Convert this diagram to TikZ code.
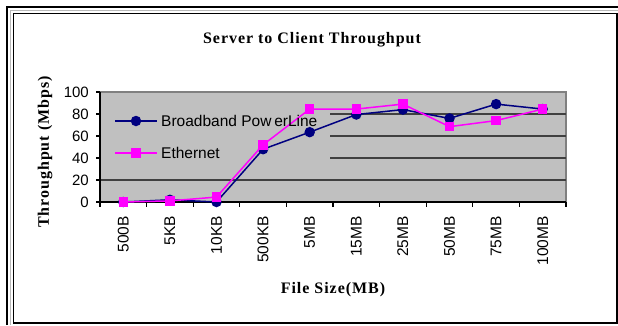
\documentclass[tikz,border=0pt]{standalone}
\usepackage{fontspec}
\newfontfamily\chartsans{Liberation Sans}
\newfontfamily\chartserif[LetterSpace=6]{Liberation Serif}
\definecolor{plotgray}{RGB}{192,192,192}
\definecolor{bordergray}{RGB}{128,128,128}
\definecolor{navyline}{RGB}{0,0,128}
\definecolor{magline}{RGB}{255,0,255}
\begin{document}
\begin{tikzpicture}[x=1pt,y=-1pt,
  ticklabel/.style={font=\chartsans\fontsize{15}{15}\selectfont, inner sep=0pt},
  catlabel/.style={font=\chartsans\fontsize{15.5}{15.5}\selectfont, inner sep=0pt, rotate=90, anchor=east},
  axistitle/.style={font=\chartserif\bfseries\fontsize{16}{16}\selectfont, inner sep=0pt},
  legendtext/.style={font=\chartsans\fontsize{15.5}{15.5}\selectfont, inner sep=0pt, anchor=west},
  gridline/.style={black!75, line width=1.2pt},
  pline/.style={navyline, line width=1.5pt},
  eline/.style={magline, line width=1.5pt},
  pmark/.style={circle, fill=navyline, minimum size=10.5pt, inner sep=0pt},
  emark/.style={rectangle, fill=magline, minimum size=9.5pt, inner sep=0pt},
]
\useasboundingbox (0,0) rectangle (618,325);

% double frame round the chart
\draw[line width=2.2pt] (7,325) -- (7,7) -- (618,7);
\draw[gray!55, line width=0.9pt] (10.2,325) -- (10.2,10.2) -- (618,10.2);
\draw[line width=1.6pt] (13.3,13.3) rectangle (617,323);

% title
\node[axistitle] (title) at (312,40) {Server to Client Throughput};

% plot area
\fill[plotgray] (100,92) rectangle (566,202);
\draw[bordergray, line width=1.2pt] (100,92) -- (566,92) -- (566,202);
\foreach \v in {20,40,60,80} {
  \draw[gridline] (100,{202-1.1*\v}) -- (566,{202-1.1*\v});
}
% legend background hides the grid behind it
\fill[plotgray] (101,99) rectangle (330,170);

% axes and ticks
\draw[line width=1.2pt] (100,92) -- (100,202) -- (566,202);
\foreach \v in {0,20,...,100} {
  \draw[line width=1.1pt] (96,{202-1.1*\v}) -- (100,{202-1.1*\v});
  \node[ticklabel, anchor=east] (y\v) at (89,{202-1.1*\v}) {\v};
}
\foreach \i in {0,...,10} {
  \draw[line width=1.1pt] ({100+46.6*\i},202) -- ({100+46.6*\i},206.5);
}
\foreach \lab [count=\i from 0] in {500B,5KB,10KB,500KB,5MB,15MB,25MB,50MB,75MB,100MB} {
  \node[catlabel] (x\i) at ({123.3+46.6*\i},216) {\lab};
}

% axis titles
\node[axistitle, rotate=90] (ytitle) at (45,152) {Throughput (Mbps)};
\node[axistitle] (xtitle) at (333,290) {File Size(MB)};

% data points
\foreach \v [count=\i from 0] in {0,2,0,48,63.5,79.5,84,76,89,84.5} {
  \coordinate (p\i) at ({123.3+46.6*\i},{202-1.1*\v});
}
\foreach \v [count=\i from 0] in {0,1,4.5,52,84.5,84.5,89,68.5,74,84.5} {
  \coordinate (e\i) at ({123.3+46.6*\i},{202-1.1*\v});
}

% Broadband PowerLine series
\draw[pline] (p0) -- (p1) -- (p2) -- (p3) -- (p4) -- (p5) -- (p6) -- (p7) -- (p8) -- (p9);
\foreach \i in {0,...,9} { \node[pmark] (pm\i) at (p\i) {}; }

% Ethernet series
\draw[eline] (e0) -- (e1) -- (e2) -- (e3) -- (e4) -- (e5) -- (e6) -- (e7) -- (e8) -- (e9);
\foreach \i in {0,...,9} { \node[emark] (em\i) at (e\i) {}; }

% legend
\coordinate (lpa) at (115,121);
\coordinate (lpb) at (157,121);
\draw[pline] (lpa) -- (lpb);
\node[pmark] (lpm) at (136,121) {};
\node[legendtext] (lpt) at (161,121) {Broadband Pow\hspace{-1.5pt} erLine};
\coordinate (lea) at (115,153);
\coordinate (leb) at (157,153);
\draw[eline] (lea) -- (leb);
\node[emark] (lem) at (136,153) {};
\node[legendtext] (let) at (161,153) {Ethernet};
\end{tikzpicture}
\end{document}
